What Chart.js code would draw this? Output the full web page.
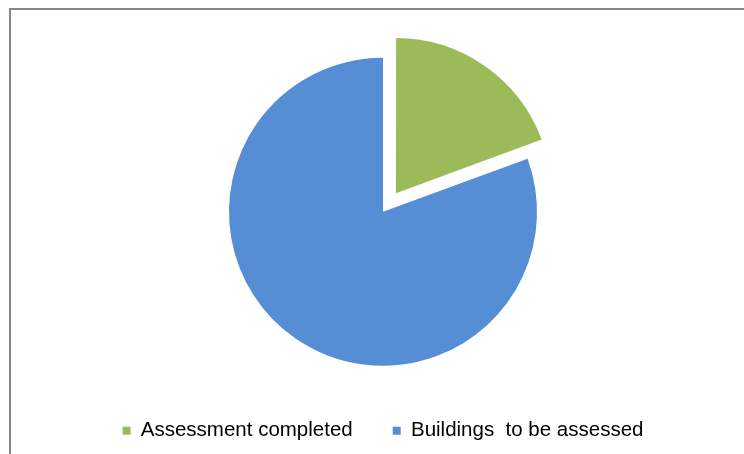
<!DOCTYPE html>
<html>
<head>
<meta charset="utf-8">
<script src="https://cdn.jsdelivr.net/npm/chart.js@4"></script>
<style>
  html, body { margin: 0; padding: 0; background: #fff; overflow: hidden; }
  .frame {
    position: absolute; left: 9px; top: 8px; width: 800px; height: 500px;
    border: 2px solid #878787;
  }
  #chart { position: absolute; left: 0; top: 0; }
</style>
</head>
<body>
<div class="frame"></div>
<canvas id="chart" width="744" height="454"></canvas>
<script>
// share of buildings (%)
const labels = ["Assessment completed", "Buildings  to be assessed"];
const shares = [19.4, 80.6];
const colors = ["#9BBB59", "#558ED5"];
// arc offset is drawn at roughly a quarter of its value, so 90 pulls the slice out ~24px
const explode = [90, 0];

const data = {
  labels: labels,
  datasets: [{
    data: shares,
    backgroundColor: colors,
    borderWidth: 0,
    offset: explode
  }]
};

const options = {
  responsive: false,
  animation: false,
  radius: 154,
  layout: {
    padding: { left: 22, right: 0, top: 43, bottom: 3 }
  },
  plugins: {
    tooltip: { enabled: false },
    legend: {
      position: "bottom",
      labels: {
        boxWidth: 8,
        boxHeight: 8,
        padding: 40,
        color: "#000",
        font: { family: "'Liberation Sans', Arial, sans-serif", size: 20.5 }
      }
    }
  }
};

new Chart("chart", {
  type: "pie",
  data: data,
  options: options
});
</script>
</body>
</html>
